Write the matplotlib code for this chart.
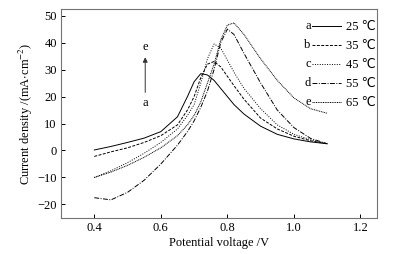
import numpy as np
import matplotlib
matplotlib.use("Agg")
import matplotlib.pyplot as plt

plt.rcParams['font.family'] = ['Liberation Serif', 'DejaVu Sans']
plt.rcParams['mathtext.fontset'] = 'stix'
plt.rcParams['font.size'] = 9

# potential grid (V)
V = [0.40, 0.45, 0.50, 0.55, 0.60, 0.65, 0.68, 0.70, 0.72, 0.74,
     0.76, 0.78, 0.80, 0.82, 0.85, 0.90, 0.95, 1.00, 1.05, 1.10]

# current density (mA/cm2) at each temperature
j25 = [0.2, 1.5, 3.0, 4.6, 7.0, 12.5, 20.0, 25.5, 28.5, 28.0,
       26.0, 23.0, 20.0, 17.0, 13.5, 9.0, 6.0, 4.3, 3.2, 2.5]
j35 = [-2.2, -0.5, 1.0, 3.0, 5.5, 9.5, 15.0, 20.0, 27.0, 32.0,
       33.0, 31.0, 27.5, 24.0, 19.0, 12.0, 8.0, 5.3, 3.6, 2.5]
j45 = [-10.0, -7.5, -4.5, -1.0, 3.0, 8.0, 13.0, 17.0, 25.0, 34.0,
       39.5, 38.0, 33.5, 29.0, 23.0, 15.5, 9.5, 6.0, 4.0, 2.5]
j55 = [-17.5, -18.3, -15.5, -11.0, -5.0, 2.0, 7.0, 11.0, 16.0, 22.0,
       30.0, 40.0, 45.0, 43.0, 36.0, 25.0, 15.0, 8.5, 4.5, 2.5]
j65 = [-10.0, -8.0, -5.5, -2.5, 1.0, 5.5, 9.5, 13.0, 18.0, 25.0,
       32.0, 41.0, 46.5, 47.3, 43.0, 34.0, 26.0, 19.5, 15.5, 13.8]

series = [j25, j35, j45, j55, j65]
temps = ['25 ℃', '35 ℃', '45 ℃', '55 ℃', '65 ℃']
letters = ['a', 'b', 'c', 'd', 'e']
styles = ['-', (0, (3, 1.5)), (0, (1, 1.5)), (0, (5, 1.5, 1, 1.5)), (0, (1, 0.8))]

fig = plt.figure(figsize=(3.94, 2.54), dpi=100)
ax = fig.add_axes([0.155, 0.142, 0.802, 0.823])

handles = []
for j, ls, t in zip(series, styles, temps):
    h, = ax.plot(V, j, color='black', lw=0.7, linestyle=ls, label=t)
    handles.append(h)

ax.set_xlim(0.3, 1.25)
ax.set_ylim(-25, 52.5)
ax.set_xticks([0.4, 0.6, 0.8, 1.0, 1.2])
ax.set_yticks([-20, -10, 0, 10, 20, 30, 40, 50])
ax.tick_params(direction='in', length=3, width=0.7, pad=3)
for s in ax.spines.values():
    s.set_color('0.45')
    s.set_linewidth(0.8)

ax.set_xlabel('Potential voltage /V', labelpad=2)
ax.set_ylabel(r'Current density /(mA$\cdot$cm$^{-2}$)', labelpad=2)

leg = ax.legend(handles=handles, loc='upper left', bbox_to_anchor=(0.795, 0.94),
                frameon=False, handlelength=2.3, handletextpad=0.4,
                labelspacing=0.55, borderpad=0, borderaxespad=0)

# letters a-e to the left of each legend line
fig.canvas.draw()
inv = ax.transAxes.inverted()
for l, line in zip(letters, leg.get_lines()):
    bb = line.get_window_extent()
    x0, y0 = inv.transform((bb.x0, (bb.y0 + bb.y1) / 2))
    ax.text(x0 - 0.005, y0, l, transform=ax.transAxes, ha='right', va='center')

# arrow a -> e
ax.annotate('', xy=(0.553, 35.6), xytext=(0.553, 20.5),
            arrowprops=dict(arrowstyle='-|>', color='0.2', lw=0.7,
                            mutation_scale=7))
ax.text(0.553, 38.5, 'e', ha='center', va='center')
ax.text(0.553, 17.5, 'a', ha='center', va='center')

fig.savefig('out.png', dpi=100)
